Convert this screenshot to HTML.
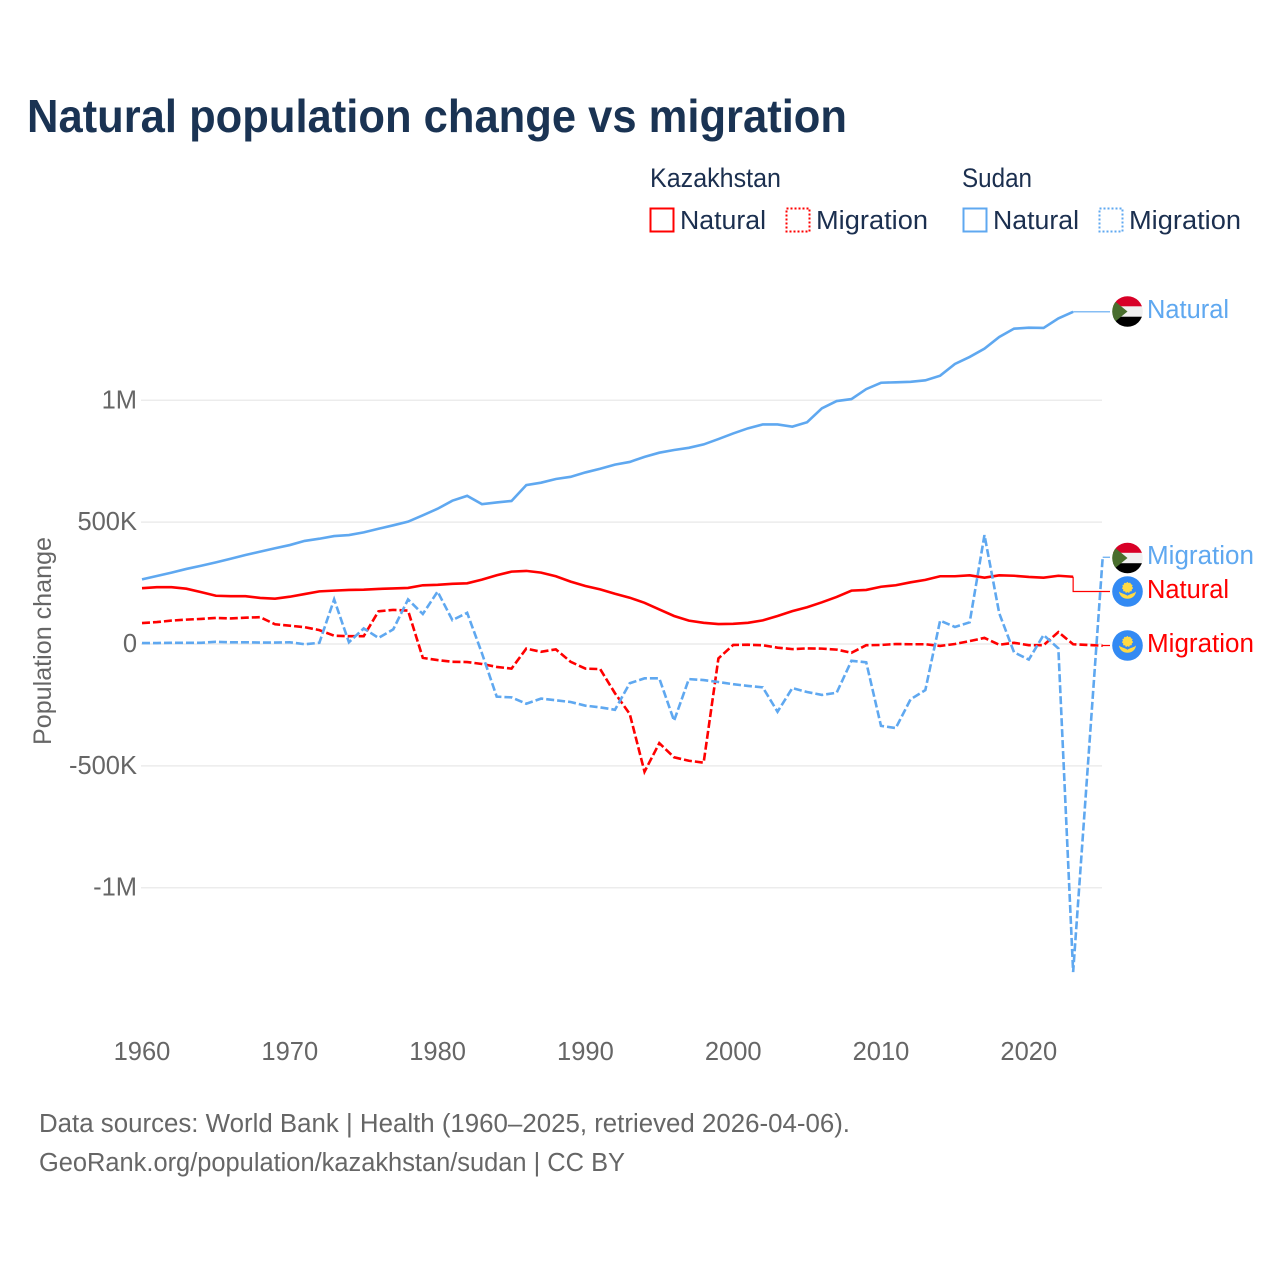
<!DOCTYPE html>
<html lang="en">
<head>
<meta charset="utf-8">
<title>Natural population change vs migration</title>
<style>
html,body{margin:0;padding:0;background:#fff;}
svg{display:block;}
text{font-family:"Liberation Sans",sans-serif;}
</style>
</head>
<body>
<svg id="chart" xmlns="http://www.w3.org/2000/svg" width="1280" height="1280" viewBox="0 0 1280 1280">
  <defs>
    <clipPath id="flag-clip"><circle cx="0" cy="0" r="15.3"/></clipPath>
    <g id="flag-sudan-art" clip-path="url(#flag-clip)">
      <rect x="-16" y="-16" width="32" height="11" fill="#d80027"/>
      <rect x="-16" y="-5.2" width="32" height="10.4" fill="#f0f0f0"/>
      <rect x="-16" y="5.2" width="32" height="11" fill="#000"/>
      <polygon points="-16,-13 0,0 -16,13" fill="#496e2d"/>
    </g>
    <g id="flag-kazakhstan-art" clip-path="url(#flag-clip)">
      <rect x="-16" y="-16" width="32" height="32" fill="#338af3"/>
      <circle cx="0" cy="-4" r="4.8" fill="#ffda44" stroke="#ffda44" stroke-width="1.2" stroke-dasharray="1.5,1.2"/>
      <circle cx="0" cy="-4" r="3.4" fill="#ffda44"/>
      <path d="M-8.5,0 C-6.5,2 -3,2.2 0,4.2 C3,2.2 6.5,2 8.5,0 C8,4.5 4.5,7.2 0,7.2 C-4.5,7.2 -8,4.5 -8.5,0 Z" fill="#ffda44"/>
    </g>
  </defs>

  <rect x="0" y="0" width="1280" height="1280" fill="#ffffff"/>

  <text x="27" y="132" font-size="46" font-weight="700" fill="#1a3353" textLength="820" lengthAdjust="spacingAndGlyphs">Natural population change vs migration</text>

  <g font-size="25.5" fill="#1b2f4f">
    <text x="650" y="187" font-size="26.5" textLength="131" lengthAdjust="spacingAndGlyphs">Kazakhstan</text>
    <text x="962" y="187" font-size="26.5" textLength="70" lengthAdjust="spacingAndGlyphs">Sudan</text>
    <rect x="650.5" y="208.5" width="23" height="23" fill="none" stroke="#ff0000" stroke-width="2"/>
    <text x="680" y="229" textLength="86" lengthAdjust="spacingAndGlyphs">Natural</text>
    <rect x="786.5" y="208.5" width="23" height="23" fill="none" stroke="#ff0000" stroke-width="2" stroke-dasharray="2,2"/>
    <text x="816" y="229" textLength="112" lengthAdjust="spacingAndGlyphs">Migration</text>
    <rect x="963.5" y="208.5" width="23" height="23" fill="none" stroke="#5fa8f0" stroke-width="2"/>
    <text x="993" y="229" textLength="86" lengthAdjust="spacingAndGlyphs">Natural</text>
    <rect x="1099.5" y="208.5" width="23" height="23" fill="none" stroke="#5fa8f0" stroke-width="2" stroke-dasharray="2,2"/>
    <text x="1129" y="229" textLength="112" lengthAdjust="spacingAndGlyphs">Migration</text>
  </g>

  <text transform="translate(51,641) rotate(-90)" text-anchor="middle" font-size="25" fill="#666666" textLength="208" lengthAdjust="spacingAndGlyphs">Population change</text>

  <g id="grid"></g>
  <g id="y-ticks"></g>
  <g id="x-ticks"></g>
  <g id="series"></g>

  <g font-size="25.5">
    <use href="#flag-sudan-art" x="1127.5" y="311.5"/>
    <text x="1147" y="318" fill="#5fa8f0" textLength="82" lengthAdjust="spacingAndGlyphs">Natural</text>
    <use href="#flag-sudan-art" x="1127.5" y="558"/>
    <text x="1147" y="564" fill="#5fa8f0" textLength="107" lengthAdjust="spacingAndGlyphs">Migration</text>
    <use href="#flag-kazakhstan-art" x="1127.5" y="591.5"/>
    <text x="1147" y="598" fill="#ff0000" textLength="82" lengthAdjust="spacingAndGlyphs">Natural</text>
    <use href="#flag-kazakhstan-art" x="1127.5" y="645.5"/>
    <text x="1147" y="652" fill="#ff0000" textLength="107" lengthAdjust="spacingAndGlyphs">Migration</text>
  </g>

  <g font-size="25.5" fill="#666666">
    <text x="39" y="1132" textLength="811" lengthAdjust="spacingAndGlyphs">Data sources: World Bank | Health (1960–2025, retrieved 2026-04-06).</text>
    <text x="39" y="1171" textLength="586" lengthAdjust="spacingAndGlyphs">GeoRank.org/population/kazakhstan/sudan | CC BY</text>
  </g>
</svg>

<script>
// Chart data (values in thousands of people)
const startYear = 1960;
const xTickYears = [1960, 1970, 1980, 1990, 2000, 2010, 2020];
const xTickLabels = ["1960", "1970", "1980", "1990", "2000", "2010", "2020"];
const yTickValues = [1000, 500, 0, -500, -1000];
const yTickLabels = ["1M", "500K", "0", "-500K", "-1M"];

const sudanNatural = [
  265,279,293,308,321,335,350,365,379,393,
  406,423,432,443,447,458,473,487,502,528,
  555,588,608,574,581,587,652,662,677,686,
  704,719,736,747,768,785,796,805,819,841,
  864,885,901,901,892,910,967,997,1005,1046,
  1072,1074,1076,1082,1101,1149,1178,1212,1260,1294,
  1298,1297,1336,1363
];
const kazakhstanNatural = [
  229,233,233,227,213,198,196,196,189,186,
  194,205,216,219,222,223,226,228,230,241,
  243,247,249,264,282,297,300,293,278,256,
  238,224,206,190,169,142,115,96,87,82,
  83,87,97,115,135,151,171,193,219,222,
  235,241,253,263,278,278,282,272,282,280,
  275,272,280,276
];
const kazakhstanMigration = [
  86,90,96,100,103,107,105,108,110,81,
  75,69,57,34,32,32,134,140,137,-57,
  -66,-73,-74,-82,-94,-101,-19,-32,-22,-73,
  -101,-103,-202,-287,-524,-407,-465,-479,-487,-59,
  -4,-3,-5,-15,-21,-18,-19,-23,-36,-5,
  -4,0,-1,-1,-8,0,12,25,-3,5,
  -5,-5,49,-1,-4,-7
];
const sudanMigration = [
  4,4,5,5,5,9,7,7,6,6,
  7,-1,5,183,7,64,25,60,183,123,
  215,98,128,-38,-216,-219,-245,-224,-231,-238,
  -253,-260,-270,-161,-141,-141,-315,-144,-148,-156,
  -165,-172,-178,-278,-181,-197,-209,-200,-69,-75,
  -336,-345,-227,-189,96,70,89,447,126,-34,
  -64,37,-18,-1346,-496,356
];

const SVG_NS = "http://www.w3.org/2000/svg";
function xScale(year) { return 142 + (year - 1960) * 14.78; }
function yScale(k) { return 644 - k * 0.2437; }
function pathFrom(values) {
  return values.map(function (v, i) {
    return (i ? "L" : "M") + xScale(startYear + i).toFixed(2) + "," + yScale(v).toFixed(2);
  }).join(" ");
}

const grid = document.getElementById("grid");
const yTicks = document.getElementById("y-ticks");
const xTicks = document.getElementById("x-ticks");
const seriesGroup = document.getElementById("series");

yTickValues.forEach(function (v, i) {
  const line = document.createElementNS(SVG_NS, "line");
  
  
  line.setAttribute("x1", 141);
  line.setAttribute("x2", 1102);
  line.setAttribute("y1", yScale(v));
  line.setAttribute("y2", yScale(v));
  line.setAttribute("stroke", "#ececec");
  line.setAttribute("stroke-width", "1.5");
  grid.appendChild(line);

  const label = document.createElementNS(SVG_NS, "text");
  
  
  label.setAttribute("x", 137);
  label.setAttribute("y", yScale(v) + 8);
  label.setAttribute("text-anchor", "end");
  label.setAttribute("font-size", "25.5");
  label.setAttribute("fill", "#666666");
  label.textContent = yTickLabels[i];
  yTicks.appendChild(label);
});

xTickYears.forEach(function (year, i) {
  const label = document.createElementNS(SVG_NS, "text");
  
  
  label.setAttribute("x", xScale(year));
  label.setAttribute("y", 1060);
  label.setAttribute("text-anchor", "middle");
  label.setAttribute("font-size", "25.5");
  label.setAttribute("fill", "#666666");
  label.textContent = xTickLabels[i];
  xTicks.appendChild(label);
});

function drawLeader(values, color, labelY) {
  const i = values.length - 1;
  const ex = xScale(startYear + i);
  const ey = yScale(values[i]);
  const leader = document.createElementNS(SVG_NS, "path");
  
  
  leader.setAttribute("d", "M" + ex + "," + ey + " L" + ex + "," + labelY + " L1110," + labelY);
  leader.setAttribute("fill", "none");
  leader.setAttribute("stroke", color);
  leader.setAttribute("stroke-width", "1.2");
  seriesGroup.appendChild(leader);
}

drawLeader(kazakhstanNatural, "#ff0000", 591.5);
drawLeader(kazakhstanMigration, "#ff0000", 645.5);
drawLeader(sudanNatural, "#5fa8f0", yScale(sudanNatural[sudanNatural.length - 1]));
drawLeader(sudanMigration, "#5fa8f0", yScale(sudanMigration[sudanMigration.length - 1]));

const lineKN = document.createElementNS(SVG_NS, "path");


lineKN.setAttribute("d", pathFrom(kazakhstanNatural));
lineKN.setAttribute("fill", "none");
lineKN.setAttribute("stroke", "#ff0000");
lineKN.setAttribute("stroke-width", "2.6");
seriesGroup.appendChild(lineKN);

const lineKM = document.createElementNS(SVG_NS, "path");


lineKM.setAttribute("d", pathFrom(kazakhstanMigration));
lineKM.setAttribute("fill", "none");
lineKM.setAttribute("stroke", "#ff0000");
lineKM.setAttribute("stroke-width", "2.6");
lineKM.setAttribute("stroke-dasharray", "8,3");
seriesGroup.appendChild(lineKM);

const lineSN = document.createElementNS(SVG_NS, "path");


lineSN.setAttribute("d", pathFrom(sudanNatural));
lineSN.setAttribute("fill", "none");
lineSN.setAttribute("stroke", "#5fa8f0");
lineSN.setAttribute("stroke-width", "2.6");
seriesGroup.appendChild(lineSN);

const lineSM = document.createElementNS(SVG_NS, "path");


lineSM.setAttribute("d", pathFrom(sudanMigration));
lineSM.setAttribute("fill", "none");
lineSM.setAttribute("stroke", "#5fa8f0");
lineSM.setAttribute("stroke-width", "2.6");
lineSM.setAttribute("stroke-dasharray", "8,3");
seriesGroup.appendChild(lineSM);
</script>
</body>
</html>
